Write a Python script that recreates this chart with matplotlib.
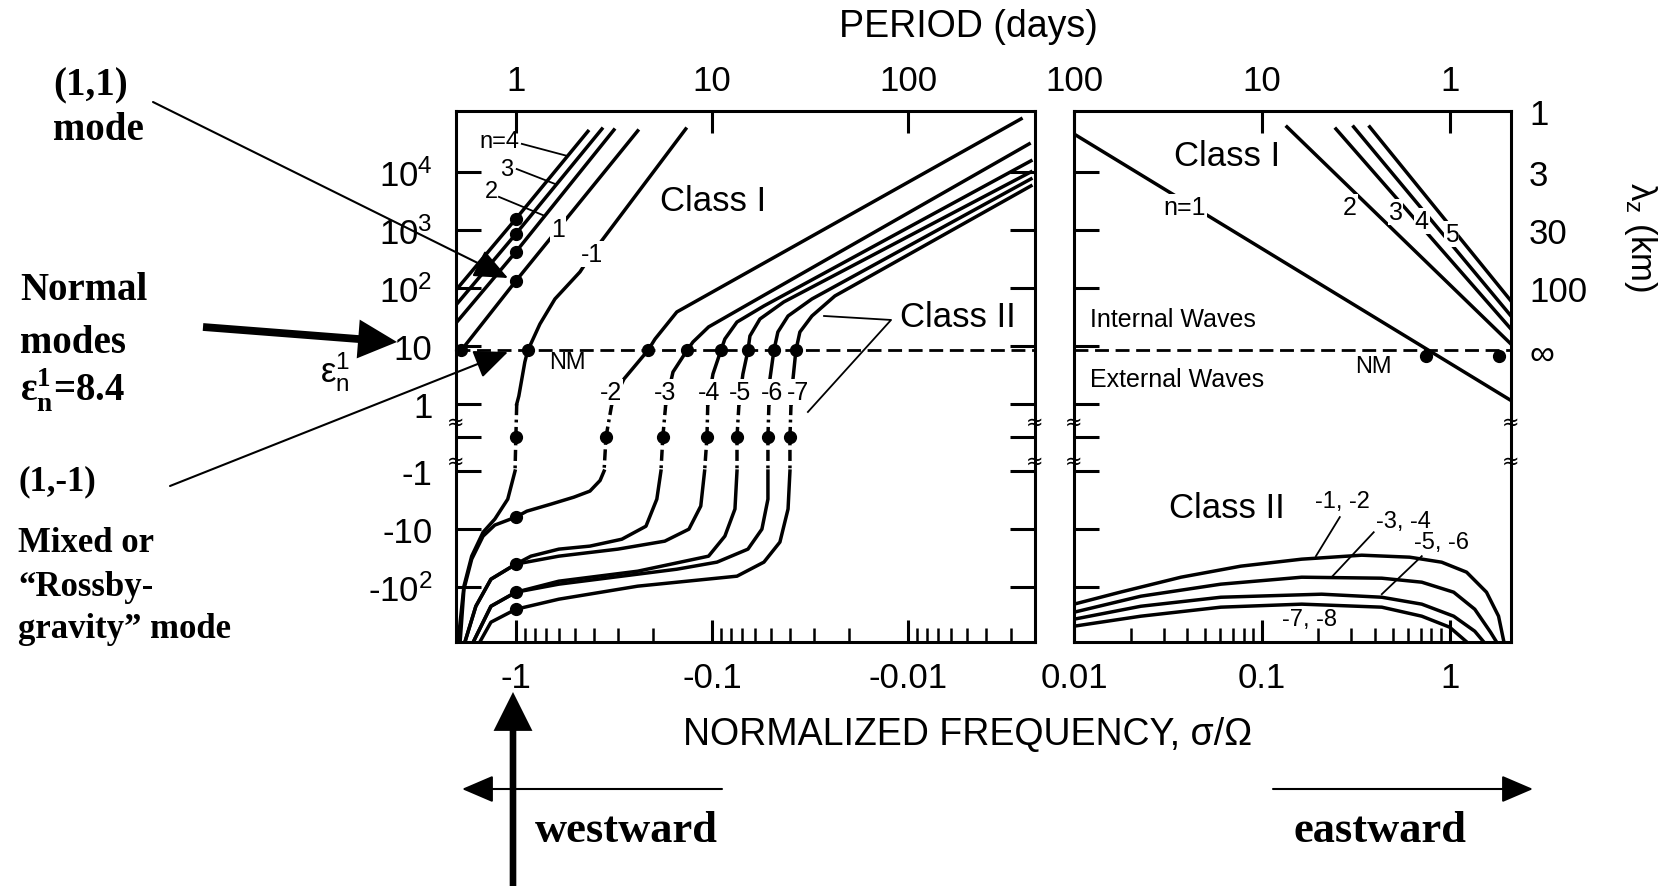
import numpy as np
import matplotlib
matplotlib.use("Agg")
import matplotlib.pyplot as plt
from matplotlib.patches import FancyArrowPatch
from matplotlib import transforms

plt.rcParams['font.family'] = ['Liberation Sans', 'DejaVu Sans']
plt.rcParams['mathtext.fontset'] = 'custom'
plt.rcParams['mathtext.rm'] = 'Liberation Sans'
plt.rcParams['mathtext.it'] = 'Liberation Sans:italic'
plt.rcParams['mathtext.bf'] = 'Liberation Serif:bold'

W, H = 1671, 887

# ---------------- data (sigma/Omega, epsilon) ----------------
EPS_NM = 8.4

# left panel, class I (n = 1..4)
cI_sig = [[-1.9, -1.0, -0.239], [-2.02, -1.0, -0.316],
          [-2.02, -1.0, -0.364], [-2.02, -1.0, -0.429]]
cI_eps = [[8.4, 132, 5.1e4], [24.9, 418, 5.3e4],
          [50.9, 853, 5.5e4], [92, 1550, 5.0e4]]

# left panel, modes -1 .. -7
m_names = ['-1', '-2', '-3', '-4', '-5', '-6', '-7']
m_sig = [
    [-0.136, -0.41, -0.471, -0.632, -0.754, -0.869, -0.90, -0.966, -0.99, -1.0, -1.01,
     -1.10, -1.28, -1.47, -1.68, -1.84, -1.98],
    [-0.00265, -0.151, -0.195, -0.212, -0.281, -0.324, -0.347, -0.355, -0.372, -0.419,
     -0.506, -0.663, -0.879, -1.0, -1.28, -1.47, -1.68, -1.84, -1.93],
    [-0.00241, -0.0720, -0.104, -0.125, -0.134, -0.158, -0.172, -0.178, -0.182, -0.191,
     -0.217, -0.288, -0.419, -0.604, -0.838, -1.0, -1.34, -1.60, -1.84],
    [-0.00236, -0.0543, -0.0745, -0.0859, -0.090, -0.0988, -0.105, -0.106, -0.109,
     -0.114, -0.131, -0.174, -0.302, -0.604, -1.0, -1.34, -1.60, -1.84],
    [-0.00236, -0.0430, -0.0569, -0.0640, -0.0655, -0.0695, -0.0728, -0.0745, -0.0745,
     -0.0763, -0.0859, -0.104, -0.239, -0.604, -1.0, -1.34, -1.68],
    [-0.00236, -0.0309, -0.0409, -0.0461, -0.0483, -0.0506, -0.0512, -0.0518, -0.0518,
     -0.0518, -0.0556, -0.0655, -0.0942, -0.151, -0.604, -1.0, -1.34, -1.68],
    [-0.00236, -0.0236, -0.0309, -0.0356, -0.0373, -0.0386, -0.0395, -0.0400, -0.0400,
     -0.0409, -0.0450, -0.0543, -0.0745, -0.239, -0.604, -1.0, -1.34, -1.56],
]
m_eps = [
    [5.5e4, 386, 189, 64.6, 23.9, 8.4, 5.3, 1.37, 1, 0, -1,
     -3.04, -6.7, -11.3, -29.2, -96, -1000],
    [8.2e4, 38.6, 13.2, 8.4, 2.7, 1, 0, -1, -1.45, -2.21,
     -2.81, -3.71, -4.9, -6.2, -8.5, -13.2, -32.9, -108, -1000],
    [3.04e4, 43.4, 21.3, 11.7, 8.4, 3.56, 1, 0, -1, -3.04,
     -8.9, -14.9, -19.6, -22.1, -29.2, -40, -72.8, -213, -1000],
    [1.55e4, 49, 25.9, 13.2, 8.4, 3.29, 1, 0, -1,
     -4.0, -10, -16.1, -22.1, -29.2, -40, -72.8, -213, -1000],
    [1.0e4, 57.4, 29.2, 14.9, 8.4, 3.29, 1, 0, -1,
     -4.5, -13.2, -29.2, -53, -78.8, -122, -213, -1000],
    [7570, 64.6, 32.9, 17.4, 8.4, 2.7, 1, 0, -1,
     -3.04, -10, -22.1, -37, -49, -88.7, -122, -213, -1000],
    [5740, 72.8, 32.9, 17.4, 8.4, 2.7, 1, 0, -1,
     -4.5, -16.7, -37, -64.6, -96, -161, -240, -401, -1000],
]

# dots on the left panel
dot_diurnal_eps = [1550, 853, 418, 132, -6.2, -40, -122, -240]
dot_nm_sig = [-1.9, -0.869, -0.212, -0.134, -0.090, -0.0655, -0.0483, -0.0373]
dot_zero_sig = [-1.0, -0.347, -0.178, -0.106, -0.0745, -0.0518, -0.0400]

# right panel, class I (n = 1..5)
r_cI_names = ['n=1', '2', '3', '4', '5']
r_cI_sig = [[0.01, 2.12], [0.136, 2.12], [0.248, 2.12], [0.308, 2.12], [0.375, 2.12]]
r_cI_eps = [[4.5e4, 1.15], [5.97e4, 10.8], [5.5e4, 19.6], [5.97e4, 32.9], [5.97e4, 59.7]]

# right panel, class II pairs
r_cII_sig = [
    [0.01, 0.0176, 0.0371, 0.0773, 0.163, 0.340, 0.612, 0.906, 1.23, 1.57, 1.82, 1.96],
    [0.01, 0.0227, 0.0605, 0.163, 0.435, 0.710, 1.05, 1.36, 1.65, 1.82],
    [0.01, 0.0227, 0.0605, 0.208, 0.435, 0.710, 1.05, 1.36, 1.57],
    [0.01, 0.0227, 0.0605, 0.163, 0.435, 0.710, 1.0, 1.29],
]
r_cII_eps = [
    [-196, -122, -67.3, -43.4, -32.9, -28.1, -30.4, -37.1, -55.1, -122, -316, -1000],
    [-270, -143, -88.7, -67.3, -70, -82, -122, -240, -597, -1000],
    [-356, -213, -149, -132, -149, -196, -316, -574, -1000],
    [-470, -316, -221, -196, -221, -316, -489, -1000],
]
r_dot_sig = [0.745, 1.82]
r_dot_eps = [6.8, 6.8]

# axis ticks
y_ticks = [1e4, 1e3, 1e2, 10, 1, 0, -1, -10, -100]
y_labels = ['10$^\\mathrm{4}$', '10$^\\mathrm{3}$', '10$^\\mathrm{2}$', '10', '1', '',
            '-1', '-10', '-10$^\\mathrm{2}$']
lam_labels = ['1', '3', '30', '100', '\u221e']
lam_eps = [1.12e5, 1e4, 1e3, 1e2, EPS_NM]
left_freq = [-1, -0.1, -0.01]
left_freq_lbl = ['-1', '-0.1', '-0.01']
right_freq = [0.01, 0.1, 1]
right_freq_lbl = ['0.01', '0.1', '1']
left_period = [1, 10, 100]
right_period = [100, 10, 1]

# ---------------- scales ----------------
Z0, Z1 = 0.57, 1.156


def eps_fwd(e):
    e = np.asarray(e, dtype=float)
    pos = np.log10(np.where(e >= 1, e, 1.0))
    neg = -Z1 - np.log10(np.where(e <= -1, -e, 1.0))
    return np.where(e >= 1, pos, np.where(e >= 0, -Z0 + Z0 * e,
                    np.where(e > -1, -Z0 + (Z1 - Z0) * e, neg)))


def eps_inv(u):
    u = np.asarray(u, dtype=float)
    pos = 10.0 ** np.where(u >= 0, u, 0.0)
    neg = -10.0 ** (-Z1 - np.where(u <= -Z1, u, -Z1))
    return np.where(u >= 0, pos, np.where(u >= -Z0, 1 + u / Z0,
                    np.where(u > -Z1, (u + Z0) / (Z1 - Z0), neg)))


def sig_fwd(s):
    s = np.asarray(s, dtype=float)
    return -np.log10(np.maximum(np.abs(s), 1e-300))


def sig_inv(u):
    return -10.0 ** (-np.asarray(u, dtype=float))


def fx(x):
    return x / W


def fy(y):
    return 1 - y / H


DASHDOT = (0, (3.2, 1.3, 0.8, 1.3))
LW = 2.5
YLIM = (-880, 1.12e5)


def draw_mode(ax, sig, eps, lw=LW):
    sig = np.asarray(sig, float)
    eps = np.asarray(eps, float)
    for mask, ls in ((eps >= 1, '-'), ((eps <= 1) & (eps >= -1), DASHDOT), (eps <= -1, '-')):
        if mask.sum() > 1:
            ax.plot(sig[mask], eps[mask], color='k', lw=lw, ls=ls, zorder=2)


def style_axes(ax):
    for sp in ax.spines.values():
        sp.set_linewidth(2.2)
    ax.set_yscale('function', functions=(eps_fwd, eps_inv))
    ax.set_ylim(*YLIM)
    ax.set_yticks(y_ticks)
    ax.tick_params(axis='both', which='major', direction='in', length=16, width=2.2,
                   labelsize=25)
    ax.tick_params(axis='both', which='minor', direction='in', length=10, width=1.8)
    ax.tick_params(axis='y', left=True, right=True, length=18)
    ax.axhline(EPS_NM, color='k', lw=2.0, ls=(0, (5, 2.4)), zorder=1)
    brk = transforms.blended_transform_factory(ax.transAxes, ax.transData)
    for xb in (0, 1):
        for yb in (0.45, -0.7):
            ax.text(xb, yb, '\u2248', transform=brk, ha='center', va='center',
                    fontsize=15, family=['DejaVu Sans'])


lbl_box = dict(fc='white', ec='none', pad=0.5)

fig = plt.figure(figsize=(W / 100, H / 100), dpi=100)
axL = fig.add_axes([fx(456), fy(643), (1035 - 456) / W, (643 - 112) / H])
axR = fig.add_axes([fx(1074), fy(643), (1511 - 1074) / W, (643 - 112) / H])

# ---------------- left panel ----------------
axL.set_xscale('function', functions=(sig_fwd, sig_inv))
axL.set_xlim(-2.02, -0.00225)
style_axes(axL)
axL.set_yticklabels(y_labels)
axL.tick_params(axis='y', pad=17)
axL.set_xticks(left_freq, left_freq_lbl)
axL.set_xticks([-k * 10.0 ** j for j in (-1, -2, -3) for k in range(2, 10)
                if k * 10.0 ** j > 0.00225], minor=True)
axL.xaxis.set_minor_formatter(plt.NullFormatter())
axL.tick_params(axis='x', pad=14)

for s, e in zip(cI_sig, cI_eps):
    axL.plot(s, e, color='k', lw=LW, zorder=2)
for s, e in zip(m_sig, m_eps):
    draw_mode(axL, s, e)

axL.plot([-1.0] * len(dot_diurnal_eps), dot_diurnal_eps, 'o', color='k', ms=8.5, zorder=4)
axL.plot(dot_nm_sig, [EPS_NM] * len(dot_nm_sig), 'o', color='k', ms=8.5, zorder=4,
         clip_on=False)
axL.plot(dot_zero_sig, [0] * len(dot_zero_sig), 'o', color='k', ms=8.5, zorder=4)

# labels on left panel
axL.text(-1.21, 3.42e4, 'n=4', fontsize=17, ha='center', va='center')
axL.text(-1.11, 1.12e4, '3', fontsize=17, ha='center', va='center')
axL.text(-1.33, 4700, '2', fontsize=17, ha='center', va='center')
axL.plot([-0.932, -0.549], [3.04e4, 1.89e4], color='k', lw=1.3)
axL.plot([-0.99, -0.632], [1.12e4, 6210], color='k', lw=1.3)
axL.plot([-1.22, -0.711], [3710, 1740], color='k', lw=1.3)
axL.text(-0.611, 1040, '1', fontsize=18, ha='center', va='center', bbox=lbl_box, zorder=3)
axL.text(-0.41, 386, '-1', fontsize=18, ha='center', va='center', bbox=lbl_box, zorder=3)
axL.text(-0.0989, 3160, 'Class I', fontsize=25, ha='center', va='center')
axL.text(-0.00556, 31.6, 'Class II', fontsize=25, ha='center', va='center')
axL.plot([-0.0268, -0.0122, -0.0324], [32.9, 28.1, 0.76], color='k', lw=1.3)
axL.text(-0.543, 5.3, 'NM', fontsize=17, ha='center', va='center')
for name, xs in zip(m_names[1:], [-0.327, -0.174, -0.104, -0.0720, -0.0494, -0.0364]):
    axL.text(xs, 1.61, name, fontsize=18, ha='center', va='center', bbox=lbl_box, zorder=3)

topL = axL.twiny()
topL.set_xscale('function', functions=(sig_fwd, sig_inv))
topL.set_xlim(axL.get_xlim())
topL.set_xticks([-1.0 / p for p in left_period], [str(p) for p in left_period])
topL.tick_params(axis='x', direction='in', length=16, width=2.2, labelsize=25, pad=10)
topL.xaxis.set_minor_locator(plt.NullLocator())

# ---------------- right panel ----------------
axR.set_xscale('log')
axR.set_xlim(0.01, 2.12)
style_axes(axR)
axR.tick_params(axis='y', labelleft=False)
axR.set_xticks(right_freq, right_freq_lbl)
axR.set_xticks([k * 10.0 ** j for j in (-2, -1) for k in range(2, 10)], minor=True)
axR.xaxis.set_minor_formatter(plt.NullFormatter())
axR.tick_params(axis='x', pad=14)

for s, e in zip(r_cI_sig, r_cI_eps):
    axR.plot(s, e, color='k', lw=LW, zorder=2)
for s, e in zip(r_cII_sig, r_cII_eps):
    axR.plot(s, e, color='k', lw=LW, zorder=2)
axR.plot(r_dot_sig, r_dot_eps, 'o', color='k', ms=8.5, zorder=4)

for name, xs, ys in zip(r_cI_names, [0.0389, 0.294, 0.516, 0.710, 1.026],
                        [2490, 2490, 2040, 1430, 853]):
    axR.text(xs, ys, name, fontsize=18, ha='center', va='center', bbox=lbl_box, zorder=3)
axR.text(0.0652, 1.89e4, 'Class I', fontsize=25, ha='center', va='center')
axR.text(0.0122, 29.2, 'Internal Waves', fontsize=18, ha='left', va='center')
axR.text(0.0122, 2.7, 'External Waves', fontsize=18, ha='left', va='center')
axR.text(0.394, 4.52, 'NM', fontsize=17, ha='center', va='center')
axR.text(0.0652, -4.17, 'Class II', fontsize=25, ha='center', va='center')
axR.text(0.267, -3.29, '-1, -2', fontsize=17, ha='center', va='center')
axR.text(0.569, -7.28, '-3, -4', fontsize=17, ha='center', va='center')
axR.text(0.906, -16.7, '-5, -6', fontsize=17, ha='center', va='center')
axR.text(0.18, -356, '-7, -8', fontsize=17, ha='center', va='center')
axR.plot([0.26, 0.194], [-6.2, -29.2], color='k', lw=1.3)
axR.plot([0.394, 0.235], [-11.3, -67.3], color='k', lw=1.3)
axR.plot([0.71, 0.435], [-29.2, -132], color='k', lw=1.3)

topR = axR.twiny()
topR.set_xscale('log')
topR.set_xlim(axR.get_xlim())
topR.set_xticks([1.0 / p for p in right_period], [str(p) for p in right_period])
topR.tick_params(axis='x', direction='in', length=16, width=2.2, labelsize=25, pad=10)
topR.xaxis.set_minor_locator(plt.NullLocator())

lam = axR.twinx()
lam.set_yscale('function', functions=(eps_fwd, eps_inv))
lam.set_ylim(*YLIM)
lam.set_yticks(lam_eps, lam_labels)
lam.tick_params(axis='y', length=0, labelsize=25, pad=13)
for sp in lam.spines.values():
    sp.set_visible(False)

# ---------------- figure level text ----------------
fig.text(fx(968), fy(27), 'PERIOD (days)', ha='center', va='center', fontsize=27)
fig.text(fx(968), fy(735), 'NORMALIZED FREQUENCY, \u03c3/\u03a9', ha='center', va='center',
         fontsize=27)
fig.text(fx(335), fy(372), '\u03b5$_\\mathrm{n}^\\mathrm{1}$', ha='center', va='center',
         fontsize=25)
fig.text(fx(1640), fy(237), '\u03bb$_\\mathrm{z}$ (km)', ha='center', va='center',
         fontsize=25, rotation=-90)

serif = dict(family='Liberation Serif', weight='bold')
fig.text(fx(53), fy(95), '(1,1)', fontsize=28, ha='left', va='baseline', **serif)
fig.text(fx(53), fy(140), 'mode', fontsize=28, ha='left', va='baseline', **serif)
fig.text(fx(20), fy(300), 'Normal', fontsize=28, ha='left', va='baseline', **serif)
fig.text(fx(20), fy(353), 'modes', fontsize=28, ha='left', va='baseline', **serif)
fig.text(fx(20), fy(402), '\u03b5$_\\mathbf{n}^\\mathbf{1}$=8.4', fontsize=28, ha='left',
         va='baseline', **serif)
fig.text(fx(18), fy(490), '(1,-1)', fontsize=25, ha='left', va='baseline', **serif)
fig.text(fx(18), fy(552), 'Mixed or', fontsize=25, ha='left', va='baseline', **serif)
fig.text(fx(18), fy(596), '\u201cRossby-', fontsize=25, ha='left', va='baseline', **serif)
fig.text(fx(18), fy(638), 'gravity\u201d mode', fontsize=25, ha='left', va='baseline', **serif)
fig.text(fx(626), fy(842), 'westward', fontsize=32, ha='center', va='baseline', **serif)
fig.text(fx(1380), fy(842), 'eastward', fontsize=32, ha='center', va='baseline', **serif)


def arrow(x0, y0, x1, y1, style, ms, lw=0):
    fig.add_artist(FancyArrowPatch((fx(x0), fy(y0)), (fx(x1), fy(y1)),
                                   transform=fig.transFigure, arrowstyle=style,
                                   mutation_scale=ms, lw=lw, color='k',
                                   shrinkA=0, shrinkB=0, zorder=5))


arrow(153, 103, 508, 279, '-|>,head_length=0.7,head_width=0.3', 30, lw=1.5)
arrow(170, 487, 508, 353, '-|>,head_length=0.7,head_width=0.3', 30, lw=1.5)
arrow(203, 328, 397, 343, 'simple,head_length=1.0,head_width=1.0,tail_width=0.2', 28)
arrow(513, 890, 513, 693, 'simple,head_length=1.0,head_width=1.0,tail_width=0.17', 28)
arrow(722, 790, 462, 790, '-|>,head_length=0.7,head_width=0.3', 28, lw=1.5)
arrow(1273, 790, 1533, 790, '-|>,head_length=0.7,head_width=0.3', 28, lw=1.5)

fig.savefig('out.png', dpi=100)
